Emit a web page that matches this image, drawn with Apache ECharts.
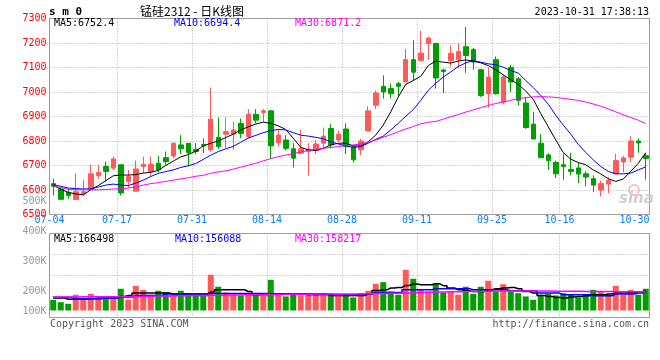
<!DOCTYPE html>
<html><head><meta charset="utf-8">
<script src="https://cdn.jsdelivr.net/npm/echarts@6/dist/echarts.min.js"></script>
<style>html,body{margin:0;padding:0;background:#fff}#c{width:660px;height:360px}</style>
</head><body><div id="c"></div>
<script>
const dates = ['07-04','07-05','07-06','07-07','07-10','07-11','07-12','07-13','07-14','07-17','07-18','07-19','07-20','07-21','07-24','07-25','07-26','07-27','07-28','07-31','08-01','08-02','08-03','08-04','08-07','08-08','08-09','08-10','08-11','08-14','08-15','08-16','08-17','08-18','08-21','08-22','08-23','08-24','08-25','08-28','08-29','08-30','08-31','09-01','09-04','09-05','09-06','09-07','09-08','09-11','09-12','09-13','09-14','09-15','09-18','09-19','09-20','09-21','09-22','09-25','09-26','09-27','09-28','10-09','10-10','10-11','10-12','10-13','10-16','10-17','10-18','10-19','10-20','10-23','10-24','10-25','10-26','10-27','10-30','10-31'];
const labelDates = ['07-04','07-17','07-31','08-14','08-28','09-11','09-25','10-16','10-30'];
const gridDates = ['07-17','07-31','08-14','08-28','09-11','09-25','10-16'];
// [open, close, low, high]
const candles = [
[6626,6615,6578,6646],[6604,6562,6558,6608],[6591,6577,6564,6607],[6561,6593,6561,6669],[6584,6593,6577,6642],
[6601,6666,6601,6703],[6659,6672,6646,6703],[6696,6676,6635,6716],[6689,6727,6682,6736],[6703,6588,6578,6703],
[6635,6655,6608,6682],[6595,6686,6595,6720],[6696,6705,6669,6736],[6676,6705,6653,6736],[6709,6682,6672,6739],
[6732,6716,6703,6757],[6739,6791,6730,6794],[6784,6768,6747,6824],[6791,6753,6696,6791],[6766,6757,6747,6791],
[6786,6780,6751,6811],[6764,6889,6757,7018],[6815,6777,6768,6896],[6828,6838,6770,6896],[6828,6845,6764,6878],
[6872,6831,6811,6892],[6818,6909,6811,6930],[6909,6885,6872,6930],[6916,6923,6878,6930],[6923,6780,6726,6926],
[6793,6824,6777,6845],[6804,6770,6761,6824],[6768,6730,6692,6791],[6750,6768,6747,6845],[6757,6766,6659,6791],
[6761,6788,6747,6804],[6791,6820,6770,6855],[6851,6784,6770,6869],[6804,6828,6796,6842],[6849,6777,6747,6872],
[6777,6723,6712,6777],[6764,6800,6743,6809],[6841,6923,6841,6942],[6946,6996,6930,7007],[7023,7000,6973,7068],
[7014,6993,6973,7034],[7034,7023,6982,7041],[7041,7132,7041,7176],[7132,7081,7047,7212],[7128,7159,7128,7250],
[7198,7220,7131,7226],[7198,7057,7014,7200],[7090,7084,6996,7095],[7128,7158,7105,7190],[7132,7165,7098,7200],
[7185,7149,7078,7265],[7173,7122,7091,7180],[7091,6986,6980,7095],[6993,7061,6936,7101],[7132,6993,6990,7145],
[6959,7061,6950,7070],[7101,7041,7000,7111],[7054,6966,6946,7061],[6955,6855,6850,6980],[6869,6808,6808,6919],
[6791,6732,6730,6828],[6743,6720,6682,6750],[6712,6666,6649,6720],[6703,6696,6642,6748],[6684,6676,6660,6752],
[6690,6665,6628,6712],[6666,6653,6616,6676],[6646,6620,6591,6660],[6600,6626,6574,6639],[6624,6639,6587,6652],
[6666,6720,6666,6748],[6714,6731,6672,6740],[6734,6800,6714,6820],[6800,6792,6752,6810],[6740,6729,6642,6751]
];
const ma5 = [6619,6603,6590,6584,6580,6601,6618,6638,6658,6661,6661,6663,6669,6672,6680,6700,6718,6735,6745,6758,
6780,6791,6800,6814,6828,6845,6858,6869,6877,6872,6862,6847,6811,6774,6764,6761,6770,6784,6791,6791,
6780,6780,6797,6824,6865,6919,6980,7031,7047,7064,7108,7126,7122,7118,7126,7131,7126,7119,7108,7091,
7070,7050,7031,7004,6970,6912,6858,6804,6753,6726,6712,6703,6682,6666,6646,6635,6645,6676,6709,6752.4];
const ma10 = [6622,6615,6608,6606,6604,6605,6612,6620,6624,6620,6618,6628,6640,6655,6668,6675,6682,6692,6699,6708,
6725,6742,6757,6768,6778,6795,6812,6823,6834,6842,6847,6845,6834,6824,6820,6815,6809,6797,6788,6780,
6774,6777,6791,6807,6820,6845,6872,6901,6928,6966,7007,7036,7061,7082,7104,7119,7128,7122,7115,7111,
7101,7088,7077,7047,7018,6986,6950,6905,6865,6828,6786,6753,6723,6696,6676,6666,6666,6669,6682,6694.4];
const ma30 = [6616,6610,6603,6601,6601,6601,6601,6602,6604,6605,6608,6612,6620,6626,6630,6635,6640,6645,6650,6656,
6660,6668,6674,6678,6685,6693,6701,6709,6719,6728,6736,6742,6749,6755,6761,6766,6770,6774,6777,6781,
6784,6788,6795,6804,6815,6826,6838,6849,6859,6870,6876,6880,6889,6899,6908,6918,6927,6936,6945,6953,
6959,6966,6973,6977,6980,6981,6980,6978,6974,6970,6966,6959,6951,6942,6931,6919,6907,6896,6885,6871.2];
// volume in thousands of lots
const vols = [91,71,57,134,91,142,119,100,113,185,91,210,176,134,168,156,147,168,147,134,
125,304,202,153,134,128,142,142,125,261,134,119,139,128,147,134,128,147,128,134,
111,134,168,227,241,162,134,346,270,176,162,232,153,162,134,202,142,202,253,162,
224,162,147,119,91,134,142,128,147,134,111,134,176,162,134,210,134,176,134,185];
const vma5 = [106,106,95,95,95,101,101,106,106,119,128,148,148,148,148,148,140,140,140,140,
140,157,176,176,176,176,162,134,134,142,142,142,140,140,140,140,140,128,128,128,
128,128,140,171,176,191,196,213,225,219,219,228,211,191,176,168,162,162,176,185,
191,196,185,162,148,128,119,111,106,114,119,125,134,134,140,148,148,153,157,166.498];
const vma10 = [111,111,111,101,101,101,106,106,106,114,114,128,128,128,128,140,140,140,140,140,
140,145,145,145,145,145,145,145,145,140,140,140,140,140,134,134,134,134,134,134,
134,140,140,153,153,153,153,176,176,176,176,185,185,185,185,185,176,176,176,176,
176,168,168,168,168,148,148,148,134,134,134,134,125,125,125,140,140,140,148,156.088];
const vma30 = [114,114,115,115,116,116,117,117,118,118,119,120,121,122,123,124,125,126,127,128,
128,129,130,131,132,133,134,135,136,137,137,138,138,139,139,140,140,140,141,141,
141,142,143,144,145,146,147,149,151,153,155,157,158,159,160,161,162,163,164,165,
165,166,166,166,166,165,165,164,164,163,163,162,162,161,161,160,160,159,159,158.217];
const volTickLabels = ['100K','200K','300K','400K','500K'];
const priceLegend = ['MA5:6752.4','MA10:6694.4','MA30:6871.2'];
const volLegend = ['MA5:166498','MA10:156088','MA30:158217'];
const titleText = '锰硅2312 - 日K线图';
const codeText = 's m 0';
const timeText = '2023-10-31 17:38:13';
const footLeft = 'Copyright 2023 SINA.COM';
const footRight = 'http://finance.sina.com.cn';

const UP = '#ff5a5a', DOWN = '#009e00';
const MONO = "'DejaVu Sans Mono', 'Liberation Mono', monospace";
const gridLine = {color:'#aaa', width:1, type:[1,2]};

const chart = echarts.init(document.getElementById('c'), null, {renderer:'canvas'});
function txt(text, x, y, color, font, align) {
  return {type:'text', x:x, y:y, z:10, style:{text:text, fill:color, font:font,
    align:align||'left', verticalAlign:'middle', textAlign:align||'left', textVerticalAlign:'middle'}};
}
const volData = vols.map((v,i)=>({value:v, itemStyle:{color: candles[i][1] >= candles[i][0] ? UP : DOWN}}));
const hiddenCat = (gi, split) => ({gridIndex:gi, type:'category', data:dates, boundaryGap:true,
  axisLine:{show:false}, axisTick:{show:false}, axisLabel:{show:false},
  splitLine: split ? {show:true, interval:(i,v)=>gridDates.includes(v), lineStyle:gridLine} : {show:false}});

const option = {
  animation:false,
  backgroundColor:'#fff',
  grid:[
    {left:49.5, top:18.5, width:600, height:196, show:true, borderColor:'#999', borderWidth:1, outerBoundsMode:'none'},
    {left:49.5, top:233.5, width:600, height:77, outerBoundsMode:'none'},
    {left:49.5, top:233.5, width:600, height:84, show:true, borderColor:'#999', borderWidth:1, outerBoundsMode:'none'},
    {left:49.5, top:201, width:600, height:120, outerBoundsMode:'none'}
  ],
  xAxis:[
    {gridIndex:0, type:'category', data:dates, boundaryGap:true,
      axisLine:{show:false}, axisTick:{show:false},
      axisLabel:{interval:(i,v)=>labelDates.includes(v), color:'#0080ff',
        fontFamily:MONO, fontSize:10, margin:1, padding:[0,7.5,0,0]},
      splitLine:{show:true, interval:(i,v)=>gridDates.includes(v), lineStyle:gridLine}},
    hiddenCat(1,false),
    hiddenCat(2,true),
    hiddenCat(3,false)
  ],
  yAxis:[
    {gridIndex:0, type:'value', min:6500, max:7300, interval:100,
      axisLine:{show:false}, axisTick:{show:false},
      axisLabel:{color:'#ff0000', fontFamily:MONO, fontSize:10, margin:3, padding:[0,0,4,0],
        formatter:(v)=>String(v)},
      splitLine:{show:true, lineStyle:gridLine}},
    {gridIndex:1, type:'value', min:0, max:655, axisLine:{show:false}, axisTick:{show:false},
      axisLabel:{show:false}, splitLine:{show:false}},
    {gridIndex:2, type:'value', min:0, max:4, interval:1, axisLine:{show:false}, axisTick:{show:false},
      axisLabel:{show:false}, splitLine:{show:true, lineStyle:gridLine}},
    {gridIndex:3, type:'value', min:100, max:500, interval:100, axisLine:{show:false}, axisTick:{show:false},
      splitLine:{show:false},
      axisLabel:{color:'#999', fontFamily:MONO, fontSize:10, margin:3,
        formatter:(v)=>{const s = volTickLabels[Math.round((v-100)/100)]; return v===100 ? '{lo|'+s+'}' : s;},
        rich:{lo:{color:'#999', fontFamily:MONO, fontSize:10, padding:[0,0,20,0]}}}}
  ],
  series:[
    {type:'candlestick', xAxisIndex:0, yAxisIndex:0, data:candles, barWidth:5,
      itemStyle:{color:UP, color0:DOWN, borderColor:UP, borderColor0:DOWN, borderWidth:1}},
    {type:'line', xAxisIndex:0, yAxisIndex:0, data:ma5, symbol:'none', lineStyle:{color:'#000', width:1}, z:3},
    {type:'line', xAxisIndex:0, yAxisIndex:0, data:ma10, symbol:'none', lineStyle:{color:'#0000ff', width:1}, z:3},
    {type:'line', xAxisIndex:0, yAxisIndex:0, data:ma30, symbol:'none', lineStyle:{color:'#ff00ff', width:1}, z:3},
    {type:'bar', xAxisIndex:1, yAxisIndex:1, data:volData, barWidth:6},
    {type:'line', xAxisIndex:1, yAxisIndex:1, data:vma5, step:'middle', symbol:'none', lineStyle:{color:'#000', width:1.5}, z:3},
    {type:'line', xAxisIndex:1, yAxisIndex:1, data:vma10, step:'middle', symbol:'none', lineStyle:{color:'#0000ff', width:1.5}, z:3},
    {type:'line', xAxisIndex:1, yAxisIndex:1, data:vma30, step:'middle', symbol:'none', lineStyle:{color:'#ff00ff', width:1.5}, z:3}
  ],
  graphic:[
    txt(codeText, 49, 12, '#000', 'bold 11px '+MONO),
    txt(titleText, 140, 11, '#000', "12px 'Noto Sans CJK SC'"),
    txt(timeText, 649, 12, '#000', '10px '+MONO, 'right'),
    txt(priceLegend[0], 54, 23.5, '#000', '10px '+MONO),
    txt(priceLegend[1], 174, 23.5, '#0000ff', '10px '+MONO),
    txt(priceLegend[2], 295, 23.5, '#ff00ff', '10px '+MONO),
    txt(volLegend[0], 54, 239.5, '#000', '10px '+MONO),
    txt(volLegend[1], 175, 239.5, '#0000ff', '10px '+MONO),
    txt(volLegend[2], 295, 239.5, '#ff00ff', '10px '+MONO),
    txt(footLeft, 50, 324, '#555', '10px '+MONO),
    txt(footRight, 649, 324, '#555', '10px '+MONO, 'right'),
    {type:'circle', z:0, shape:{cx:634, cy:190, r:5}, style:{fill:'none', stroke:'#f2c4c4', lineWidth:2}},
    {type:'text', z:0, x:619, y:199, style:{text:'sina', fill:'#cfcfcf', font:"italic bold 15px 'DejaVu Sans'", verticalAlign:'middle', textVerticalAlign:'middle'}}
  ]
};
chart.setOption(option);
</script>
</body></html>
